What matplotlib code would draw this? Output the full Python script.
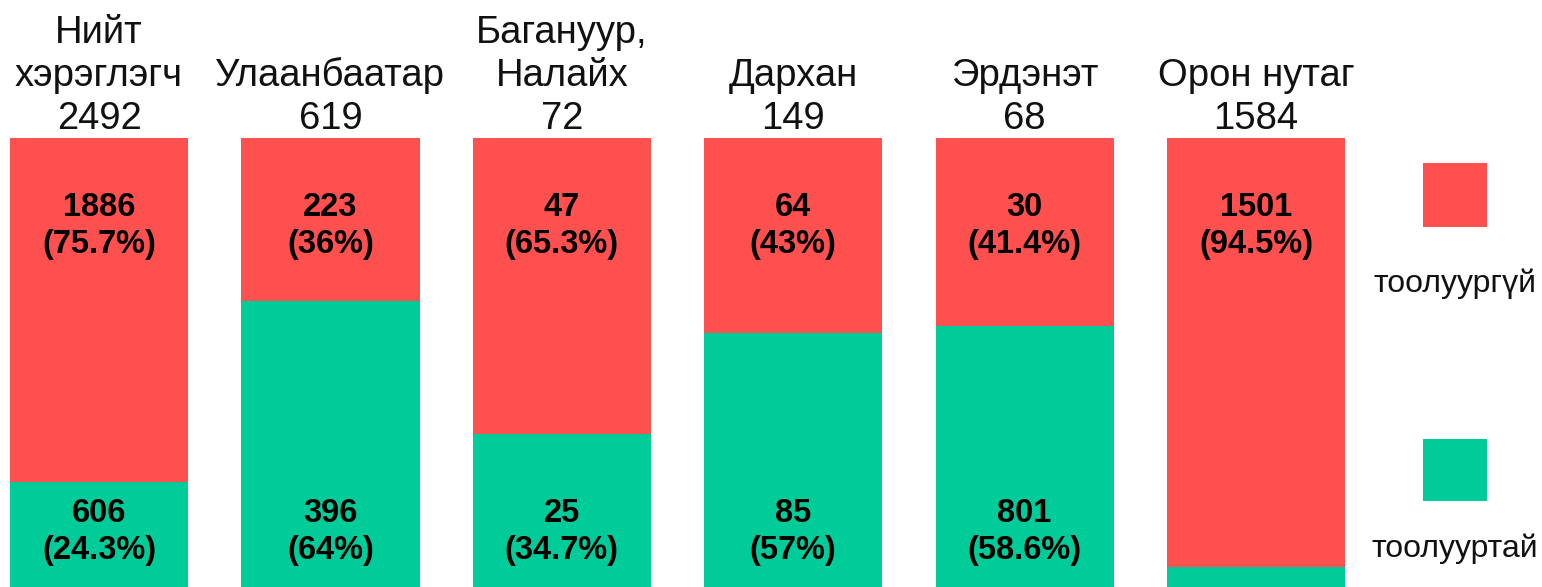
import numpy as np
import matplotlib
matplotlib.use("Agg")
import matplotlib.pyplot as plt

# data
titles = ["Нийт\nхэрэглэгч", "Улаанбаатар", "Багануур,\nНалайх", "Дархан", "Эрдэнэт", "Орон нутаг"]
totals = [2492, 619, 72, 149, 68, 1584]
no_meter = [1886, 223, 47, 64, 30, 1501]
no_meter_pct = ["75.7%", "36%", "65.3%", "43%", "41.4%", "94.5%"]
with_meter = [606, 396, 25, 85, 801, None]
with_meter_pct = ["24.3%", "64%", "34.7%", "57%", "58.6%", None]
green_share = [24.3, 64, 34.7, 57, 58.6, 5.5]
legend_labels = ["тоолуургүй", "тоолууртай"]

red = "#FF5050"
green = "#00CC99"

plt.rcParams['font.family'] = ['Liberation Sans', 'DejaVu Sans']
bold_font = ['Liberation Sans Narrow', 'Liberation Sans', 'DejaVu Sans']

fig = plt.figure(figsize=(15.42, 5.87), dpi=100)
ax = fig.add_axes([0, 0, 1, 1])

x = np.arange(len(titles))
g = np.array(green_share) / 100
w = 0.77
ax.bar(x, g, width=w, color=green, linewidth=0)
ax.bar(x, 1 - g, bottom=g, width=w, color=red, linewidth=0)

for i in x:
    ax.text(i, 1.003, f"{titles[i]}\n{totals[i]}", ha="center", va="bottom",
            fontsize=27.5, linespacing=1.25, color="#111111")
    ax.text(i, 0.806, f"{no_meter[i]}\n({no_meter_pct[i]})", ha="center", va="center",
            fontsize=23.5, fontweight="bold", family=bold_font, linespacing=1.28)
    if with_meter[i] is not None:
        ax.text(i, 0.132, f"{with_meter[i]}\n({with_meter_pct[i]})", ha="center", va="center",
                fontsize=23.5, fontweight="bold", family=bold_font, linespacing=1.28)

# legend drawn as squares
lx = 5.86
ax.bar(lx, 0.141, bottom=0.803, width=0.277, color=red, linewidth=0)
ax.bar(lx, 0.137, bottom=0.2, width=0.277, color=green, linewidth=0)
ax.text(lx, 0.68, legend_labels[0], ha="center", va="center", fontsize=23, color="#111111")
ax.text(lx, 0.095, legend_labels[1], ha="center", va="center", fontsize=23, color="#111111")

ax.set_xlim(-0.428, 6.236)
ax.set_ylim(0.011, 1.304)
ax.axis("off")

fig.savefig("out.png", dpi=100)
